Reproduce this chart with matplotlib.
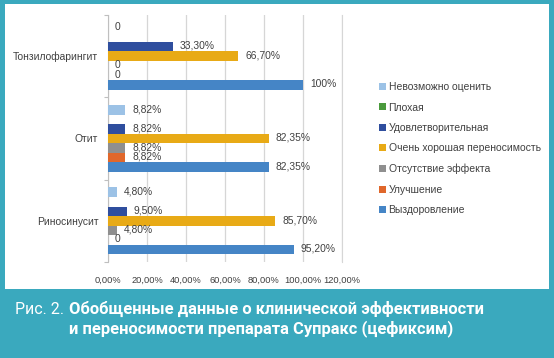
import numpy as np
import matplotlib
matplotlib.use("Agg")
import matplotlib.pyplot as plt
from matplotlib.patches import Patch

# данные (значения в %), снизу вверх: Риносинусит, Отит, Тонзилофарингит
categories = ["Риносинусит", "Отит", "Тонзилофарингит"]

series_names = [
    "Выздоровление",
    "Улучшение",
    "Отсутствие эффекта",
    "Очень хорошая переносимость",
    "Удовлетворительная",
    "Плохая",
    "Невозможно оценить",
]

vyzdorovlenie   = [95.20, 82.35, 100.0]
uluchshenie     = [0.0, 8.82, 0.0]
otsutstvie      = [4.80, 8.82, 0.0]
ochen_horoshaya = [85.70, 82.35, 66.70]
udovletvor      = [9.50, 8.82, 33.30]
plohaya         = [np.nan, np.nan, np.nan]
nevozmozhno     = [4.80, 8.82, 0.0]

series_values = [vyzdorovlenie, uluchshenie, otsutstvie, ochen_horoshaya,
                 udovletvor, plohaya, nevozmozhno]

colors = ["#4585C6", "#E0672B", "#8F8F8F", "#E8AA16",
          "#2F4E9E", "#4A9A3C", "#9CC2E6"]

xticks = [0, 20, 40, 60, 80, 100, 120]

TEAL = "#3AA9BE"
TXT = "#404040"
FONT = ["Liberation Sans", "DejaVu Sans"]


def fmt(v):
    if v == 0:
        return "0"
    if v == 100:
        return "100%"
    return f"{v:.2f}%".replace(".", ",")


W, H = 554, 358
fig = plt.figure(figsize=(W / 100, H / 100), dpi=100)
fig.patch.set_facecolor(TEAL)

# белая панель
panel = fig.add_axes([5 / W, 1 - 289 / H, 544 / W, 285 / H])
panel.set_facecolor("white")
panel.set_xticks([])
panel.set_yticks([])
for s in panel.spines.values():
    s.set_visible(False)

ax = fig.add_axes([108 / W, 1 - 262 / H, 234 / W, 247 / H])
ax.set_facecolor("none")

y = np.arange(len(categories))
n = len(series_names)
h = 0.81 / n

for i, (vals, c) in enumerate(zip(series_values, colors)):
    pos = y + (i - (n - 1) / 2) * h
    ax.barh(pos, vals, height=h, color=c, zorder=3)
    for p, v in zip(pos, vals):
        if np.isnan(v):
            continue
        ax.annotate(fmt(v), (v, p), xytext=(5, 0.5), textcoords="offset points",
                    va="center", ha="left", fontsize=7.4, color=TXT,
                    family=FONT, zorder=4)

ax.set_xlim(0, 120)
ax.set_ylim(-0.5, 2.5)
ax.set_xticks(xticks)
ax.set_xticklabels([f"{t},00%" for t in xticks], fontsize=6.7, color=TXT, family=FONT)
ax.tick_params(axis="x", length=0, pad=10)
ax.grid(axis="x", color="#D6D6D6", linewidth=0.9, zorder=0)

ax.set_yticks(y)
ax.set_yticklabels(categories, fontsize=7.4, color=TXT, family=FONT)
ax.tick_params(axis="y", length=0, pad=7)
ax.set_yticks([-0.5, 0.5, 1.5, 2.5], minor=True)
ax.tick_params(axis="y", which="minor", length=3, color="#BFBFBF", width=0.8)

for s in ["top", "bottom"]:
    ax.spines[s].set_visible(False)
ax.spines["left"].set_color("#BFBFBF")
ax.spines["right"].set_color("#D6D6D6")

handles = [Patch(facecolor=c, edgecolor="none") for c in colors][::-1]
labels = series_names[::-1]
fig.legend(handles, labels, loc="upper left",
           bbox_to_anchor=(375 / W, 1 - 78 / H), frameon=False,
           prop={"family": FONT, "size": 7.5},
           labelcolor=TXT, handlelength=0.65, handleheight=0.65,
           handletextpad=0.25, labelspacing=1.0, borderaxespad=0)

# подпись
CAP = ["Roboto", "DejaVu Sans"]
fig.text(15 / W, 1 - 314 / H, "Рис. 2.", color="white", fontsize=11.5,
         family=CAP, va="baseline", ha="left")
fig.text(69 / W, 1 - 314 / H, "Обобщенные данные о клинической эффективности",
         color="white", fontsize=11.9, fontweight="bold", family=CAP,
         va="baseline", ha="left")
fig.text(69 / W, 1 - 333 / H, "и переносимости препарата Супракс (цефиксим)",
         color="white", fontsize=11.9, fontweight="bold", family=CAP,
         va="baseline", ha="left")

fig.savefig("out.png", dpi=100, facecolor=fig.get_facecolor())
